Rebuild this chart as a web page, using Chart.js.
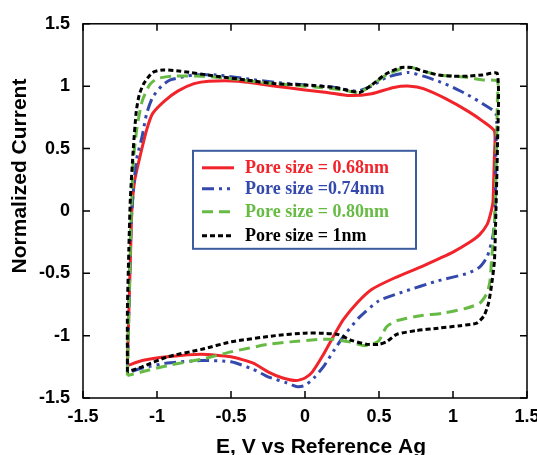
<!DOCTYPE html>
<html lang="en">
<head>
<meta charset="UTF-8">
<title>Normalized Current vs E</title>
<script src="https://cdn.jsdelivr.net/npm/chart.js"></script>
<style>
  html, body { margin: 0; padding: 0; background: #fff; }
</style>
</head>
<body>
<canvas id="cv" width="537" height="455"></canvas>
<script>
// data: E (V vs Ag) and normalized current, one closed loop per pore size
const labels = ['Pore size = 0.68nm', 'Pore size =0.74nm', 'Pore size = 0.80nm', 'Pore size = 1nm'];
const xTicks = [-1.5, -1, -0.5, 0, 0.5, 1, 1.5];
const yTicks = [-1.5, -1, -0.5, 0, 0.5, 1, 1.5];

const e068 = [-1.2, -1.19, -1.18, -1.17, -1.15, -1.11, -1.07, -1.03, -0.95, -0.86, -0.75, -0.65, -0.45, -0.2, 0, 0.15, 0.3, 0.45, 0.6, 0.71, 0.8, 0.95, 1.1, 1.2, 1.28,
  1.28, 1.275, 1.27, 1.25, 1.23, 1.18, 1.115, 1.0, 0.91, 0.78, 0.6, 0.45, 0.35, 0.26, 0.19, 0.12, 0.05, 0.0, -0.06, -0.15, -0.25, -0.35, -0.5, -0.7, -0.93, -1.1, -1.2];
const i068 = [-1.24, -0.8, -0.4, 0.0, 0.25, 0.46, 0.65, 0.78, 0.88, 0.96, 1.02, 1.04, 1.04, 1.0, 0.97, 0.95, 0.925, 0.94, 0.99, 1.0, 0.98, 0.9, 0.8, 0.72, 0.64,
  0.45, 0.25, 0.07, -0.04, -0.11, -0.19, -0.25, -0.33, -0.38, -0.45, -0.54, -0.63, -0.74, -0.87, -1.01, -1.16, -1.29, -1.34, -1.36, -1.34, -1.29, -1.22, -1.17, -1.15, -1.17, -1.2, -1.24];

const e074 = [-1.2, -1.19, -1.18, -1.17, -1.14, -1.1, -1.07, -1.03, -0.97, -0.91, -0.75, -0.6, -0.4, -0.2, 0, 0.2, 0.35, 0.45, 0.55, 0.7, 0.8, 0.9, 1.0, 1.1, 1.2, 1.29,
  1.29, 1.285, 1.27, 1.23, 1.18, 1.1, 0.9, 0.66, 0.5, 0.37, 0.27, 0.2, 0.13, 0.06, 0.0, -0.05, -0.12, -0.25, -0.35, -0.5, -0.7, -0.93, -1.1, -1.2];
const i074 = [-1.3, -0.8, -0.3, 0.0, 0.4, 0.6, 0.78, 0.91, 1.0, 1.05, 1.09, 1.09, 1.06, 1.03, 1.01, 0.99, 0.96, 1.0, 1.07, 1.11, 1.08, 1.04, 0.99, 0.93, 0.86, 0.78,
  0.5, 0.0, -0.2, -0.37, -0.45, -0.5, -0.56, -0.65, -0.72, -0.85, -0.99, -1.11, -1.24, -1.34, -1.4, -1.41, -1.38, -1.33, -1.27, -1.21, -1.2, -1.22, -1.26, -1.3];

const e080 = [-1.2, -1.19, -1.18, -1.17, -1.16, -1.135, -1.1, -1.05, -1.0, -0.9, -0.7, -0.5, -0.3, -0.1, 0.1, 0.25, 0.37, 0.45, 0.55, 0.65, 0.72, 0.8, 0.9, 1.0, 1.1, 1.2, 1.3,
  1.3, 1.29, 1.28, 1.26, 1.25, 1.23, 1.18, 1.09, 0.93, 0.78, 0.62, 0.55, 0.5, 0.45, 0.4, 0.3, 0.2, 0.1, -0.1, -0.25, -0.5, -0.7, -0.93, -1.1, -1.2];
const i080 = [-1.32, -0.8, -0.3, 0.1, 0.4, 0.67, 0.88, 1.01, 1.06, 1.08, 1.08, 1.06, 1.03, 1.01, 0.99, 0.97, 0.95, 1.01, 1.09, 1.14, 1.15, 1.12, 1.09, 1.08, 1.07, 1.05, 1.04,
  0.9, 0.3, -0.1, -0.4, -0.56, -0.66, -0.74, -0.78, -0.82, -0.84, -0.88, -0.93, -1.04, -1.07, -1.08, -1.05, -1.03, -1.03, -1.05, -1.07, -1.13, -1.19, -1.24, -1.29, -1.32];

const e100 = [-1.2, -1.2, -1.19, -1.18, -1.16, -1.14, -1.12, -1.09, -1.03, -0.96, -0.84, -0.6, -0.4, -0.2, 0, 0.2, 0.37, 0.45, 0.55, 0.65, 0.72, 0.8, 0.9, 1.0, 1.1, 1.2, 1.3,
  1.3, 1.29, 1.28, 1.26, 1.24, 1.21, 1.16, 1.05, 0.9, 0.75, 0.62, 0.55, 0.5, 0.42, 0.32, 0.22, 0.1, 0.0, -0.2, -0.5, -0.7, -0.93, -1.1, -1.2];
const i100 = [-1.29, -0.8, -0.3, 0.1, 0.5, 0.8, 0.93, 1.02, 1.11, 1.13, 1.12, 1.08, 1.05, 1.02, 1.01, 0.99, 0.95, 1.01, 1.1, 1.15, 1.15, 1.12, 1.09, 1.08, 1.08, 1.09, 1.1,
  0.5, 0.0, -0.4, -0.6, -0.74, -0.84, -0.9, -0.92, -0.94, -0.96, -0.99, -1.05, -1.07, -1.07, -1.04, -0.99, -0.98, -0.98, -1.0, -1.05, -1.11, -1.17, -1.25, -1.29];

const colors = ['#f0242a', '#3449ab', '#67bb45', '#000000'];
const textColors = ['#f0242a', '#3449ab', '#67bb45', '#000000'];
const dashes = [[], [12, 5, 3, 5, 3, 5], [11, 6], [5, 3]];

function pts(xs, ys) {
    return xs.map((v, k) => ({ x: v, y: ys[k] }));
}

const series = [pts(e068, i068), pts(e074, i074), pts(e080, i080), pts(e100, i100)];

const datasets = series.map((d, k) => ({
    label: labels[k],
    data: d,
    showLine: true,
    borderColor: colors[k],
    borderWidth: 3,
    borderDash: dashes[k],
    pointRadius: 0,
    fill: false,
    tension: 0.2,
    order: 3 - k
}));

const tickFont = { family: '"Liberation Sans", Arial, sans-serif', weight: 'bold', size: 18 };

// frame, inward ticks, axis titles and the boxed legend
const decor = {
    id: 'decor',
    afterDraw(chart) {
        const ctx = chart.ctx;
        const a = chart.chartArea;
        const xs = chart.scales.x, ys = chart.scales.y;
        ctx.save();
        ctx.strokeStyle = '#000';
        ctx.lineWidth = 1.5;
        ctx.setLineDash([]);
        ctx.strokeRect(a.left, a.top, a.right - a.left, a.bottom - a.top);
        ctx.beginPath();
        xTicks.forEach(v => {
            const p = xs.getPixelForValue(v);
            ctx.moveTo(p, a.bottom); ctx.lineTo(p, a.bottom - 7);
            ctx.moveTo(p, a.top); ctx.lineTo(p, a.top + 7);
        });
        yTicks.forEach(v => {
            const p = ys.getPixelForValue(v);
            ctx.moveTo(a.left, p); ctx.lineTo(a.left + 7, p);
            ctx.moveTo(a.right, p); ctx.lineTo(a.right - 7, p);
        });
        ctx.stroke();

        // axis titles
        ctx.fillStyle = '#000';
        ctx.font = 'bold 21px "Liberation Sans", Arial, sans-serif';
        ctx.textAlign = 'center';
        ctx.textBaseline = 'alphabetic';
        ctx.fillText('E, V vs Reference Ag', 321, 453);
        ctx.save();
        ctx.translate(26, 176);
        ctx.rotate(-Math.PI / 2);
        ctx.fillText('Normalized Current', 0, 0);
        ctx.restore();

        // legend box
        const bx = a.left + 110, by = a.top + 127, bw = 223, bh = 98;
        ctx.fillStyle = '#fff';
        ctx.fillRect(bx, by, bw, bh);
        ctx.strokeStyle = '#3d5c9f';
        ctx.lineWidth = 2;
        ctx.strokeRect(bx, by, bw, bh);
        const rows = [17, 38, 61, 85];
        ctx.font = 'bold 18px "Liberation Serif", "Times New Roman", serif';
        ctx.textAlign = 'left';
        ctx.textBaseline = 'middle';
        chart.data.datasets.forEach((ds, k) => {
            const yy = by + rows[k];
            ctx.strokeStyle = ds.borderColor;
            ctx.lineWidth = 3;
            ctx.setLineDash(ds.borderDash);
            ctx.beginPath();
            ctx.moveTo(bx + 9, yy);
            ctx.lineTo(bx + 41, yy);
            ctx.stroke();
            ctx.setLineDash([]);
            ctx.fillStyle = textColors[k];
            ctx.fillText(ds.label, bx + 52, yy + 1);
        });
        ctx.restore();
    }
};

new Chart(document.getElementById('cv'), {
    type: 'scatter',
    data: { datasets: datasets },
    options: {
        responsive: false,
        animation: false,
        layout: { padding: { top: 16, right: 10, left: 0, bottom: 0 } },
        plugins: {
            legend: { display: false },
            tooltip: { enabled: false }
        },
        scales: {
            x: {
                type: 'linear',
                min: -1.5,
                max: 1.5,
                afterBuildTicks: s => { s.ticks = xTicks.map(v => ({ value: v })); },
                afterFit: s => { s.height = 57; s.paddingLeft = 0; s.paddingRight = 0; },
                grid: { display: false, drawTicks: false },
                border: { display: false },
                ticks: { font: tickFont, color: '#000', padding: 8, maxRotation: 0, autoSkip: false, callback: v => String(v) }
            },
            y: {
                type: 'linear',
                min: -1.5,
                max: 1.5,
                afterBuildTicks: s => { s.ticks = yTicks.map(v => ({ value: v })); },
                afterFit: s => { s.width = 83; },
                grid: { display: false, drawTicks: false },
                border: { display: false },
                ticks: { font: tickFont, color: '#000', padding: 13, autoSkip: false, callback: v => String(v) }
            }
        }
    },
    plugins: [decor]
});
</script>
</body>
</html>
